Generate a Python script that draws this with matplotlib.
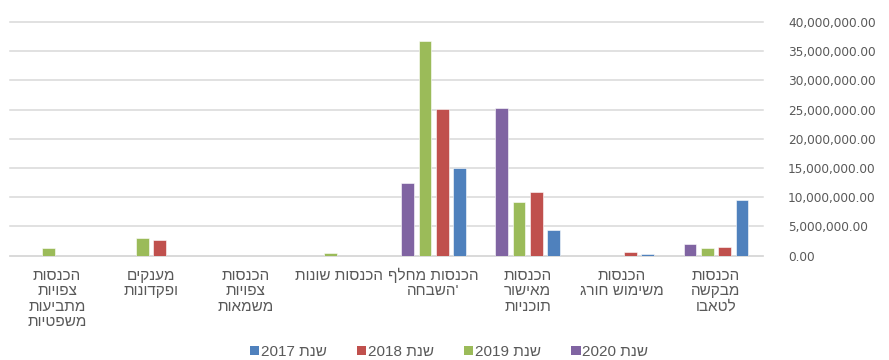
import numpy as np
import matplotlib.pyplot as plt
from matplotlib.patches import Patch
from matplotlib.ticker import FuncFormatter

plt.rcParams['font.family'] = ['Liberation Sans', 'DejaVu Sans']

# categories in sheet order (first one sits on the right)
categories = [
    ["הכנסות", "מבקשה", "לטאבו"],
    ["הכנסות", "משימוש חורג"],
    ["הכנסות", "מאישור", "תוכניות"],
    ["הכנסות מחלף", "'השבחה"],
    ["הכנסות שונות"],
    ["הכנסות", "צפויות", "משמאות"],
    ["מענקים", "ופקדונות"],
    ["הכנסות", "צפויות", "מתביעות", "משפטיות"],
]
years = ["2017", "2018", "2019", "2020"]
v2017 = [9540000, 290000, 4320000, 14950000, 0, 0, 0, 0]
v2018 = [1490000, 580000, 10850000, 25050000, 0, 0, 2740000, 0]
v2019 = [1370000, 0, 9140000, 36770000, 460000, 0, 3080000, 1270000]
v2020 = [1950000, 0, 25300000, 12400000, 0, 0, 0, 0]
series = [v2017, v2018, v2019, v2020]
colors = ['#4F81BD', '#C0504D', '#9BBB59', '#8064A2']


def rtl(s):
    # matplotlib has no bidi support, so hebrew is written in visual order
    return s[::-1]


fig = plt.figure(figsize=(8.89, 3.6), dpi=100)
ax = fig.add_axes([10/889, 104.3/360, 753/889, 233.7/360])

x = np.arange(len(categories))
step = 0.184
width = 0.135
for i, vals in enumerate(series):
    ax.bar(x + (i - 1.5)*step, vals, width=width, color=colors[i],
           edgecolor='white', linewidth=0.4, zorder=3)

ax.set_xlim(7.5, -0.5)
ax.set_ylim(0, 40000000)
ax.set_yticks(np.arange(0, 40000001, 5000000))
ax.yaxis.set_major_formatter(FuncFormatter(lambda v, p: f'{v:,.2f}'))
ax.yaxis.tick_right()
ax.tick_params(axis='y', length=0, pad=18, labelsize=8.7, labelcolor='#595959')
for lab in ax.get_yticklabels():
    lab.set_family('DejaVu Sans')
ax.set_xticks([])
ax.grid(axis='y', color='#D9D9D9', linewidth=1.1, zorder=0)
for gl in ax.get_ygridlines():
    gl.set_clip_on(False)
for s in ['top', 'left', 'right']:
    ax.spines[s].set_visible(False)
ax.spines['bottom'].set_color('#D9D9D9')
ax.spines['bottom'].set_linewidth(1.1)

# wrapped category labels under each group
for xi, lines in zip(x, categories):
    for j, line in enumerate(lines):
        ax.annotate(rtl(line), xy=(xi, 0), xycoords=('data', 'axes fraction'),
                    xytext=(0, -14.3 - 11.2*j), textcoords='offset points',
                    ha='center', va='center', fontsize=11, color='#595959')

handles = [Patch(facecolor=c) for c in colors]
labels = [y + ' ' + rtl("שנת") for y in years]
fig.legend(handles, labels, loc='center', bbox_to_anchor=(449/889, 8/360),
           ncol=4, frameon=False, fontsize=11, handlelength=0.6,
           handleheight=0.6, handletextpad=0.1, columnspacing=2.0,
           labelcolor='#595959')

fig.savefig('out.png', dpi=100)
